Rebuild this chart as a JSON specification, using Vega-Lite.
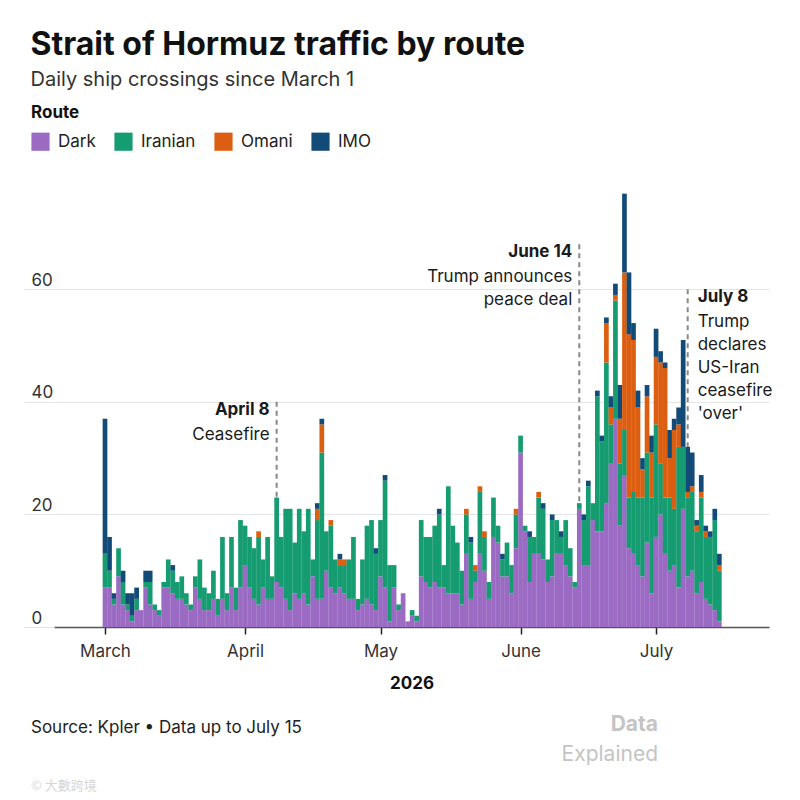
{
  "$schema": "https://vega.github.io/schema/vega-lite/v6.json",
  "description": "Strait of Hormuz daily ship crossings by route",
  "padding": {"left": 23, "top": 29, "right": 5, "bottom": 5},
  "background": "white",
  "title": {
    "text": "Strait of Hormuz traffic by route",
    "subtitle": "Daily ship crossings since March 1",
    "anchor": "start",
    "frame": "bounds",
    "dx": 7,
    "fontSize": 32,
    "fontWeight": 700,
    "color": "#111",
    "subtitleFontSize": 20,
    "subtitleColor": "#333",
    "subtitlePadding": 8,
    "offset": 14
  },
  "spacing": 23,
  "vconcat": [
    {
      "width": 715,
      "height": 439,
      "layer": [
        {
          "data": {
            "values": [
              {"date": "2026-04-08", "top": 40, "head": "April 8", "body": "Ceasefire"},
              {"date": "2026-06-14", "top": 68, "head": "June 14", "body": "Trump announces\npeace deal"},
              {"date": "2026-07-08", "top": 60, "head": "July 8", "body": "Trump\ndeclares\nUS-Iran\nceasefire\n'over'"}
            ]
          },
          "mark": {"type": "rule", "color": "#888", "strokeWidth": 2, "strokeDash": [5, 4]},
          "encoding": {
            "x": {"field": "date", "type": "temporal"},
            "y": {"field": "top", "type": "quantitative"},
            "y2": {"datum": 0}
          }
        },
        {
          "data": {
            "values": [
              {"date": "2026-03-01", "Dark": 7, "Iranian": 6, "Omani": 0, "IMO": 24},
              {"date": "2026-03-02", "Dark": 7, "Iranian": 3, "Omani": 0, "IMO": 6},
              {"date": "2026-03-03", "Dark": 4, "Iranian": 1, "Omani": 0, "IMO": 1},
              {"date": "2026-03-04", "Dark": 9, "Iranian": 5, "Omani": 0, "IMO": 0},
              {"date": "2026-03-05", "Dark": 4, "Iranian": 4, "Omani": 0, "IMO": 2},
              {"date": "2026-03-06", "Dark": 3, "Iranian": 1, "Omani": 0, "IMO": 2},
              {"date": "2026-03-07", "Dark": 1, "Iranian": 1, "Omani": 0, "IMO": 4},
              {"date": "2026-03-08", "Dark": 3, "Iranian": 2, "Omani": 0, "IMO": 2},
              {"date": "2026-03-09", "Dark": 3, "Iranian": 0, "Omani": 0, "IMO": 0},
              {"date": "2026-03-10", "Dark": 7, "Iranian": 1, "Omani": 0, "IMO": 2},
              {"date": "2026-03-11", "Dark": 4, "Iranian": 4, "Omani": 0, "IMO": 2},
              {"date": "2026-03-12", "Dark": 3, "Iranian": 1, "Omani": 0, "IMO": 0},
              {"date": "2026-03-13", "Dark": 2, "Iranian": 1, "Omani": 0, "IMO": 0},
              {"date": "2026-03-14", "Dark": 7, "Iranian": 1, "Omani": 0, "IMO": 0},
              {"date": "2026-03-15", "Dark": 7, "Iranian": 5, "Omani": 0, "IMO": 0},
              {"date": "2026-03-16", "Dark": 6, "Iranian": 4, "Omani": 0, "IMO": 1},
              {"date": "2026-03-17", "Dark": 5, "Iranian": 3, "Omani": 0, "IMO": 0},
              {"date": "2026-03-18", "Dark": 5, "Iranian": 4, "Omani": 0, "IMO": 0},
              {"date": "2026-03-19", "Dark": 4, "Iranian": 2, "Omani": 0, "IMO": 0},
              {"date": "2026-03-20", "Dark": 3, "Iranian": 1, "Omani": 0, "IMO": 0},
              {"date": "2026-03-21", "Dark": 7, "Iranian": 2, "Omani": 0, "IMO": 0},
              {"date": "2026-03-22", "Dark": 5, "Iranian": 7, "Omani": 0, "IMO": 0},
              {"date": "2026-03-23", "Dark": 3, "Iranian": 4, "Omani": 0, "IMO": 0},
              {"date": "2026-03-24", "Dark": 3, "Iranian": 3, "Omani": 0, "IMO": 0},
              {"date": "2026-03-25", "Dark": 5, "Iranian": 5, "Omani": 0, "IMO": 0},
              {"date": "2026-03-26", "Dark": 2, "Iranian": 3, "Omani": 0, "IMO": 0},
              {"date": "2026-03-27", "Dark": 5, "Iranian": 11, "Omani": 0, "IMO": 0},
              {"date": "2026-03-28", "Dark": 3, "Iranian": 3, "Omani": 0, "IMO": 0},
              {"date": "2026-03-29", "Dark": 7, "Iranian": 9, "Omani": 0, "IMO": 0},
              {"date": "2026-03-30", "Dark": 3, "Iranian": 4, "Omani": 0, "IMO": 0},
              {"date": "2026-03-31", "Dark": 7, "Iranian": 12, "Omani": 0, "IMO": 0},
              {"date": "2026-04-01", "Dark": 11, "Iranian": 7, "Omani": 0, "IMO": 0},
              {"date": "2026-04-02", "Dark": 7, "Iranian": 9, "Omani": 0, "IMO": 0},
              {"date": "2026-04-03", "Dark": 5, "Iranian": 9, "Omani": 0, "IMO": 0},
              {"date": "2026-04-04", "Dark": 4, "Iranian": 12, "Omani": 1, "IMO": 0},
              {"date": "2026-04-05", "Dark": 7, "Iranian": 5, "Omani": 0, "IMO": 0},
              {"date": "2026-04-06", "Dark": 5, "Iranian": 11, "Omani": 0, "IMO": 0},
              {"date": "2026-04-07", "Dark": 5, "Iranian": 4, "Omani": 0, "IMO": 0},
              {"date": "2026-04-08", "Dark": 8, "Iranian": 15, "Omani": 0, "IMO": 0},
              {"date": "2026-04-09", "Dark": 7, "Iranian": 9, "Omani": 0, "IMO": 0},
              {"date": "2026-04-10", "Dark": 5, "Iranian": 16, "Omani": 0, "IMO": 0},
              {"date": "2026-04-11", "Dark": 3, "Iranian": 18, "Omani": 0, "IMO": 0},
              {"date": "2026-04-12", "Dark": 6, "Iranian": 9, "Omani": 0, "IMO": 0},
              {"date": "2026-04-13", "Dark": 5, "Iranian": 16, "Omani": 0, "IMO": 0},
              {"date": "2026-04-14", "Dark": 6, "Iranian": 11, "Omani": 0, "IMO": 0},
              {"date": "2026-04-15", "Dark": 4, "Iranian": 17, "Omani": 0, "IMO": 0},
              {"date": "2026-04-16", "Dark": 9, "Iranian": 3, "Omani": 0, "IMO": 0},
              {"date": "2026-04-17", "Dark": 5, "Iranian": 14, "Omani": 2, "IMO": 1},
              {"date": "2026-04-18", "Dark": 5, "Iranian": 26, "Omani": 5, "IMO": 1},
              {"date": "2026-04-19", "Dark": 10, "Iranian": 7, "Omani": 0, "IMO": 0},
              {"date": "2026-04-20", "Dark": 7, "Iranian": 11, "Omani": 1, "IMO": 0},
              {"date": "2026-04-21", "Dark": 6, "Iranian": 6, "Omani": 0, "IMO": 0},
              {"date": "2026-04-22", "Dark": 7, "Iranian": 4, "Omani": 1, "IMO": 1},
              {"date": "2026-04-23", "Dark": 6, "Iranian": 5, "Omani": 1, "IMO": 0},
              {"date": "2026-04-24", "Dark": 5, "Iranian": 7, "Omani": 0, "IMO": 0},
              {"date": "2026-04-25", "Dark": 5, "Iranian": 11, "Omani": 0, "IMO": 0},
              {"date": "2026-04-26", "Dark": 3, "Iranian": 2, "Omani": 0, "IMO": 0},
              {"date": "2026-04-27", "Dark": 4, "Iranian": 8, "Omani": 0, "IMO": 0},
              {"date": "2026-04-28", "Dark": 5, "Iranian": 13, "Omani": 0, "IMO": 0},
              {"date": "2026-04-29", "Dark": 4, "Iranian": 15, "Omani": 0, "IMO": 0},
              {"date": "2026-04-30", "Dark": 3, "Iranian": 10, "Omani": 0, "IMO": 1},
              {"date": "2026-05-01", "Dark": 9, "Iranian": 10, "Omani": 0, "IMO": 0},
              {"date": "2026-05-02", "Dark": 7, "Iranian": 19, "Omani": 0, "IMO": 1},
              {"date": "2026-05-03", "Dark": 1, "Iranian": 10, "Omani": 0, "IMO": 0},
              {"date": "2026-05-04", "Dark": 7, "Iranian": 4, "Omani": 0, "IMO": 0},
              {"date": "2026-05-05", "Dark": 3, "Iranian": 1, "Omani": 0, "IMO": 0},
              {"date": "2026-05-06", "Dark": 6, "Iranian": 0, "Omani": 0, "IMO": 0},
              {"date": "2026-05-07", "Dark": 1, "Iranian": 0, "Omani": 0, "IMO": 0},
              {"date": "2026-05-08", "Dark": 2, "Iranian": 1, "Omani": 0, "IMO": 0},
              {"date": "2026-05-09", "Dark": 1, "Iranian": 1, "Omani": 0, "IMO": 0},
              {"date": "2026-05-10", "Dark": 9, "Iranian": 10, "Omani": 0, "IMO": 0},
              {"date": "2026-05-11", "Dark": 8, "Iranian": 8, "Omani": 0, "IMO": 0},
              {"date": "2026-05-12", "Dark": 7, "Iranian": 9, "Omani": 0, "IMO": 0},
              {"date": "2026-05-13", "Dark": 8, "Iranian": 10, "Omani": 0, "IMO": 0},
              {"date": "2026-05-14", "Dark": 7, "Iranian": 13, "Omani": 0, "IMO": 1},
              {"date": "2026-05-15", "Dark": 7, "Iranian": 4, "Omani": 0, "IMO": 0},
              {"date": "2026-05-16", "Dark": 6, "Iranian": 19, "Omani": 0, "IMO": 0},
              {"date": "2026-05-17", "Dark": 6, "Iranian": 12, "Omani": 0, "IMO": 0},
              {"date": "2026-05-18", "Dark": 6, "Iranian": 9, "Omani": 0, "IMO": 0},
              {"date": "2026-05-19", "Dark": 4, "Iranian": 6, "Omani": 0, "IMO": 0},
              {"date": "2026-05-20", "Dark": 13, "Iranian": 7, "Omani": 1, "IMO": 0},
              {"date": "2026-05-21", "Dark": 5, "Iranian": 10, "Omani": 0, "IMO": 1},
              {"date": "2026-05-22", "Dark": 8, "Iranian": 2, "Omani": 1, "IMO": 0},
              {"date": "2026-05-23", "Dark": 13, "Iranian": 11, "Omani": 1, "IMO": 0},
              {"date": "2026-05-24", "Dark": 10, "Iranian": 6, "Omani": 1, "IMO": 0},
              {"date": "2026-05-25", "Dark": 5, "Iranian": 3, "Omani": 0, "IMO": 0},
              {"date": "2026-05-26", "Dark": 16, "Iranian": 7, "Omani": 0, "IMO": 0},
              {"date": "2026-05-27", "Dark": 15, "Iranian": 3, "Omani": 0, "IMO": 0},
              {"date": "2026-05-28", "Dark": 9, "Iranian": 3, "Omani": 0, "IMO": 1},
              {"date": "2026-05-29", "Dark": 9, "Iranian": 6, "Omani": 0, "IMO": 0},
              {"date": "2026-05-30", "Dark": 6, "Iranian": 5, "Omani": 0, "IMO": 0},
              {"date": "2026-05-31", "Dark": 14, "Iranian": 6, "Omani": 1, "IMO": 0},
              {"date": "2026-06-01", "Dark": 31, "Iranian": 3, "Omani": 0, "IMO": 0},
              {"date": "2026-06-02", "Dark": 17, "Iranian": 1, "Omani": 0, "IMO": 0},
              {"date": "2026-06-03", "Dark": 8, "Iranian": 8, "Omani": 0, "IMO": 1},
              {"date": "2026-06-04", "Dark": 13, "Iranian": 3, "Omani": 0, "IMO": 0},
              {"date": "2026-06-05", "Dark": 13, "Iranian": 10, "Omani": 1, "IMO": 0},
              {"date": "2026-06-06", "Dark": 12, "Iranian": 9, "Omani": 0, "IMO": 1},
              {"date": "2026-06-07", "Dark": 8, "Iranian": 4, "Omani": 0, "IMO": 0},
              {"date": "2026-06-08", "Dark": 9, "Iranian": 10, "Omani": 0, "IMO": 1},
              {"date": "2026-06-09", "Dark": 13, "Iranian": 6, "Omani": 0, "IMO": 0},
              {"date": "2026-06-10", "Dark": 13, "Iranian": 3, "Omani": 0, "IMO": 1},
              {"date": "2026-06-11", "Dark": 11, "Iranian": 8, "Omani": 0, "IMO": 0},
              {"date": "2026-06-12", "Dark": 9, "Iranian": 5, "Omani": 0, "IMO": 0},
              {"date": "2026-06-13", "Dark": 7, "Iranian": 1, "Omani": 0, "IMO": 0},
              {"date": "2026-06-14", "Dark": 21, "Iranian": 1, "Omani": 0, "IMO": 0},
              {"date": "2026-06-15", "Dark": 11, "Iranian": 8, "Omani": 0, "IMO": 1},
              {"date": "2026-06-16", "Dark": 11, "Iranian": 14, "Omani": 0, "IMO": 1},
              {"date": "2026-06-17", "Dark": 19, "Iranian": 3, "Omani": 0, "IMO": 0},
              {"date": "2026-06-18", "Dark": 17, "Iranian": 24, "Omani": 0, "IMO": 1},
              {"date": "2026-06-19", "Dark": 17, "Iranian": 16, "Omani": 0, "IMO": 1},
              {"date": "2026-06-20", "Dark": 22, "Iranian": 25, "Omani": 7, "IMO": 1},
              {"date": "2026-06-21", "Dark": 29, "Iranian": 7, "Omani": 3, "IMO": 2},
              {"date": "2026-06-22", "Dark": 37, "Iranian": 21, "Omani": 1, "IMO": 2},
              {"date": "2026-06-23", "Dark": 18, "Iranian": 11, "Omani": 8, "IMO": 6},
              {"date": "2026-06-24", "Dark": 27, "Iranian": 8, "Omani": 28, "IMO": 14},
              {"date": "2026-06-25", "Dark": 14, "Iranian": 9, "Omani": 29, "IMO": 11},
              {"date": "2026-06-26", "Dark": 13, "Iranian": 11, "Omani": 27, "IMO": 3},
              {"date": "2026-06-27", "Dark": 11, "Iranian": 12, "Omani": 16, "IMO": 3},
              {"date": "2026-06-28", "Dark": 9, "Iranian": 14, "Omani": 5, "IMO": 2},
              {"date": "2026-06-29", "Dark": 15, "Iranian": 16, "Omani": 10, "IMO": 2},
              {"date": "2026-06-30", "Dark": 6, "Iranian": 17, "Omani": 8, "IMO": 3},
              {"date": "2026-07-01", "Dark": 16, "Iranian": 20, "Omani": 12, "IMO": 5},
              {"date": "2026-07-02", "Dark": 20, "Iranian": 9, "Omani": 18, "IMO": 2},
              {"date": "2026-07-03", "Dark": 13, "Iranian": 10, "Omani": 23, "IMO": 1},
              {"date": "2026-07-04", "Dark": 10, "Iranian": 13, "Omani": 7, "IMO": 5},
              {"date": "2026-07-05", "Dark": 11, "Iranian": 10, "Omani": 14, "IMO": 2},
              {"date": "2026-07-06", "Dark": 7, "Iranian": 25, "Omani": 4, "IMO": 3},
              {"date": "2026-07-07", "Dark": 21, "Iranian": 11, "Omani": 0, "IMO": 19},
              {"date": "2026-07-08", "Dark": 9, "Iranian": 14, "Omani": 1, "IMO": 8},
              {"date": "2026-07-09", "Dark": 10, "Iranian": 14, "Omani": 1, "IMO": 6},
              {"date": "2026-07-10", "Dark": 6, "Iranian": 11, "Omani": 1, "IMO": 1},
              {"date": "2026-07-11", "Dark": 8, "Iranian": 15, "Omani": 1, "IMO": 3},
              {"date": "2026-07-12", "Dark": 5, "Iranian": 11, "Omani": 1, "IMO": 1},
              {"date": "2026-07-13", "Dark": 4, "Iranian": 12, "Omani": 0, "IMO": 1},
              {"date": "2026-07-14", "Dark": 3, "Iranian": 16, "Omani": 0, "IMO": 2},
              {"date": "2026-07-15", "Dark": 1, "Iranian": 9, "Omani": 1, "IMO": 2}
            ]
          },
          "transform": [
            {"fold": ["Dark", "Iranian", "Omani", "IMO"], "as": ["route", "ships"]},
            {"filter": "datum.ships > 0"},
            {"calculate": "indexof(['Dark', 'Iranian', 'Omani', 'IMO'], datum.route)", "as": "stackOrder"}
          ],
          "mark": {"type": "bar", "width": 4.7},
          "encoding": {
            "x": {
              "field": "date",
              "type": "temporal",
              "title": "2026",
              "scale": {
                "type": "utc",
                "padding": 0,
                "domain": [
                  {"year": 2026, "month": 2, "date": 17, "hours": 17, "utc": true},
                  {"year": 2026, "month": 7, "date": 26, "utc": true}
                ]
              },
              "axis": {
                "values": [
                  {"year": 2026, "month": 3, "date": 1, "utc": true},
                  {"year": 2026, "month": 4, "date": 1, "utc": true},
                  {"year": 2026, "month": 5, "date": 1, "utc": true},
                  {"year": 2026, "month": 6, "date": 1, "utc": true},
                  {"year": 2026, "month": 7, "date": 1, "utc": true}
                ],
                "format": "%B",
                "grid": false,
                "domainColor": "#555",
                "domainWidth": 1.5,
                "tickColor": "#222",
                "tickWidth": 1.5,
                "tickSize": 7,
                "labelPadding": 9,
                "titlePadding": 16
              }
            },
            "y": {
              "field": "ships",
              "type": "quantitative",
              "stack": "zero",
              "title": null,
              "scale": {"domain": [0, 78], "nice": false},
              "axis": {
                "values": [0, 20, 40, 60],
                "grid": true,
                "gridColor": "#e4e4e4",
                "domain": false,
                "tickSize": 30,
                "tickColor": "#e4e4e4",
                "labelAlign": "left",
                "labelPadding": -7,
                "labelBaseline": "alphabetic",
                "labelOffset": -4
              }
            },
            "color": {
              "field": "route",
              "type": "nominal",
              "title": "Route",
              "scale": {
                "domain": ["Dark", "Iranian", "Omani", "IMO"],
                "range": ["#9b6bc4", "#169c71", "#dc5e10", "#134b78"]
              },
              "legend": {
                "orient": "none",
                "legendX": -23,
                "legendY": -83,
                "direction": "horizontal",
                "symbolType": "square",
                "symbolSize": 330,
                "symbolStrokeWidth": 0,
                "symbolOpacity": 1,
                "labelOffset": 8,
                "columnPadding": 18,
                "titlePadding": 10
              }
            },
            "order": {"field": "stackOrder", "type": "quantitative"}
          }
        },
        {
          "data": {
            "values": [
              {"date": "2026-04-08", "top": 40, "head": "April 8", "body": "Ceasefire"},
              {"date": "2026-06-14", "top": 68, "head": "June 14", "body": "Trump announces\npeace deal"},
              {"date": "2026-07-08", "top": 60, "head": "July 8", "body": "Trump\ndeclares\nUS-Iran\nceasefire\n'over'"}
            ]
          },
          "encoding": {
            "x": {"field": "date", "type": "temporal"},
            "y": {"field": "top", "type": "quantitative"}
          },
          "layer": [
            {
              "transform": [{"filter": "datum.head != 'July 8'"}],
              "mark": {"type": "text", "align": "right", "baseline": "top", "dx": -7, "fontSize": 17, "fontWeight": "bold", "color": "#1a1a1a"},
              "encoding": {"text": {"field": "head"}}
            },
            {
              "transform": [{"filter": "datum.head != 'July 8'"}],
              "mark": {"type": "text", "align": "right", "baseline": "top", "dx": -7, "dy": 25, "fontSize": 17, "lineHeight": 23, "lineBreak": "\n", "color": "#1a1a1a"},
              "encoding": {"text": {"field": "body"}}
            },
            {
              "transform": [{"filter": "datum.head == 'July 8'"}],
              "mark": {"type": "text", "align": "left", "baseline": "top", "dx": 10, "fontSize": 17, "fontWeight": "bold", "color": "#1a1a1a"},
              "encoding": {"text": {"field": "head"}}
            },
            {
              "transform": [{"filter": "datum.head == 'July 8'"}],
              "mark": {"type": "text", "align": "left", "baseline": "top", "dx": 10, "dy": 25, "fontSize": 17, "lineHeight": 23, "lineBreak": "\n", "color": "#1a1a1a"},
              "encoding": {"text": {"field": "body"}}
            }
          ]
        }
      ]
    },
    {
      "spacing": 0,
      "hconcat": [
        {
          "width": 400,
          "height": 20,
          "data": {"values": []},
          "mark": "point",
          "title": {
            "text": "Source: Kpler • Data up to July 15",
            "anchor": "start",
            "frame": "group",
            "dx": -23,
            "offset": 4,
            "fontSize": 17,
            "fontWeight": "normal",
            "color": "#222",
            "subtitle": "© 大數跨境",
            "subtitleFont": "Noto Sans CJK TC",
            "subtitleFontSize": 13,
            "subtitleColor": "#d6d6d6",
            "subtitlePadding": 43
          }
        },
        {
          "width": 204,
          "height": 20,
          "data": {"values": []},
          "mark": "point",
          "title": {
            "text": "Data",
            "subtitle": "Explained",
            "anchor": "end",
            "frame": "group",
            "offset": 33,
            "fontSize": 21,
            "fontWeight": "bold",
            "color": "#c4c4c4",
            "subtitleFontSize": 21,
            "subtitleColor": "#c4c4c4",
            "subtitlePadding": 9
          }
        }
      ]
    }
  ],
  "config": {
    "font": "Inter",
    "view": {"stroke": null},
    "axis": {
      "labelFontSize": 17,
      "labelColor": "#333",
      "titleFontSize": 17,
      "titleFontWeight": "bold",
      "titleColor": "#111"
    },
    "legend": {
      "titleFontSize": 17,
      "titleFontWeight": "bold",
      "titleColor": "#111",
      "labelFontSize": 17,
      "labelColor": "#222"
    }
  }
}
